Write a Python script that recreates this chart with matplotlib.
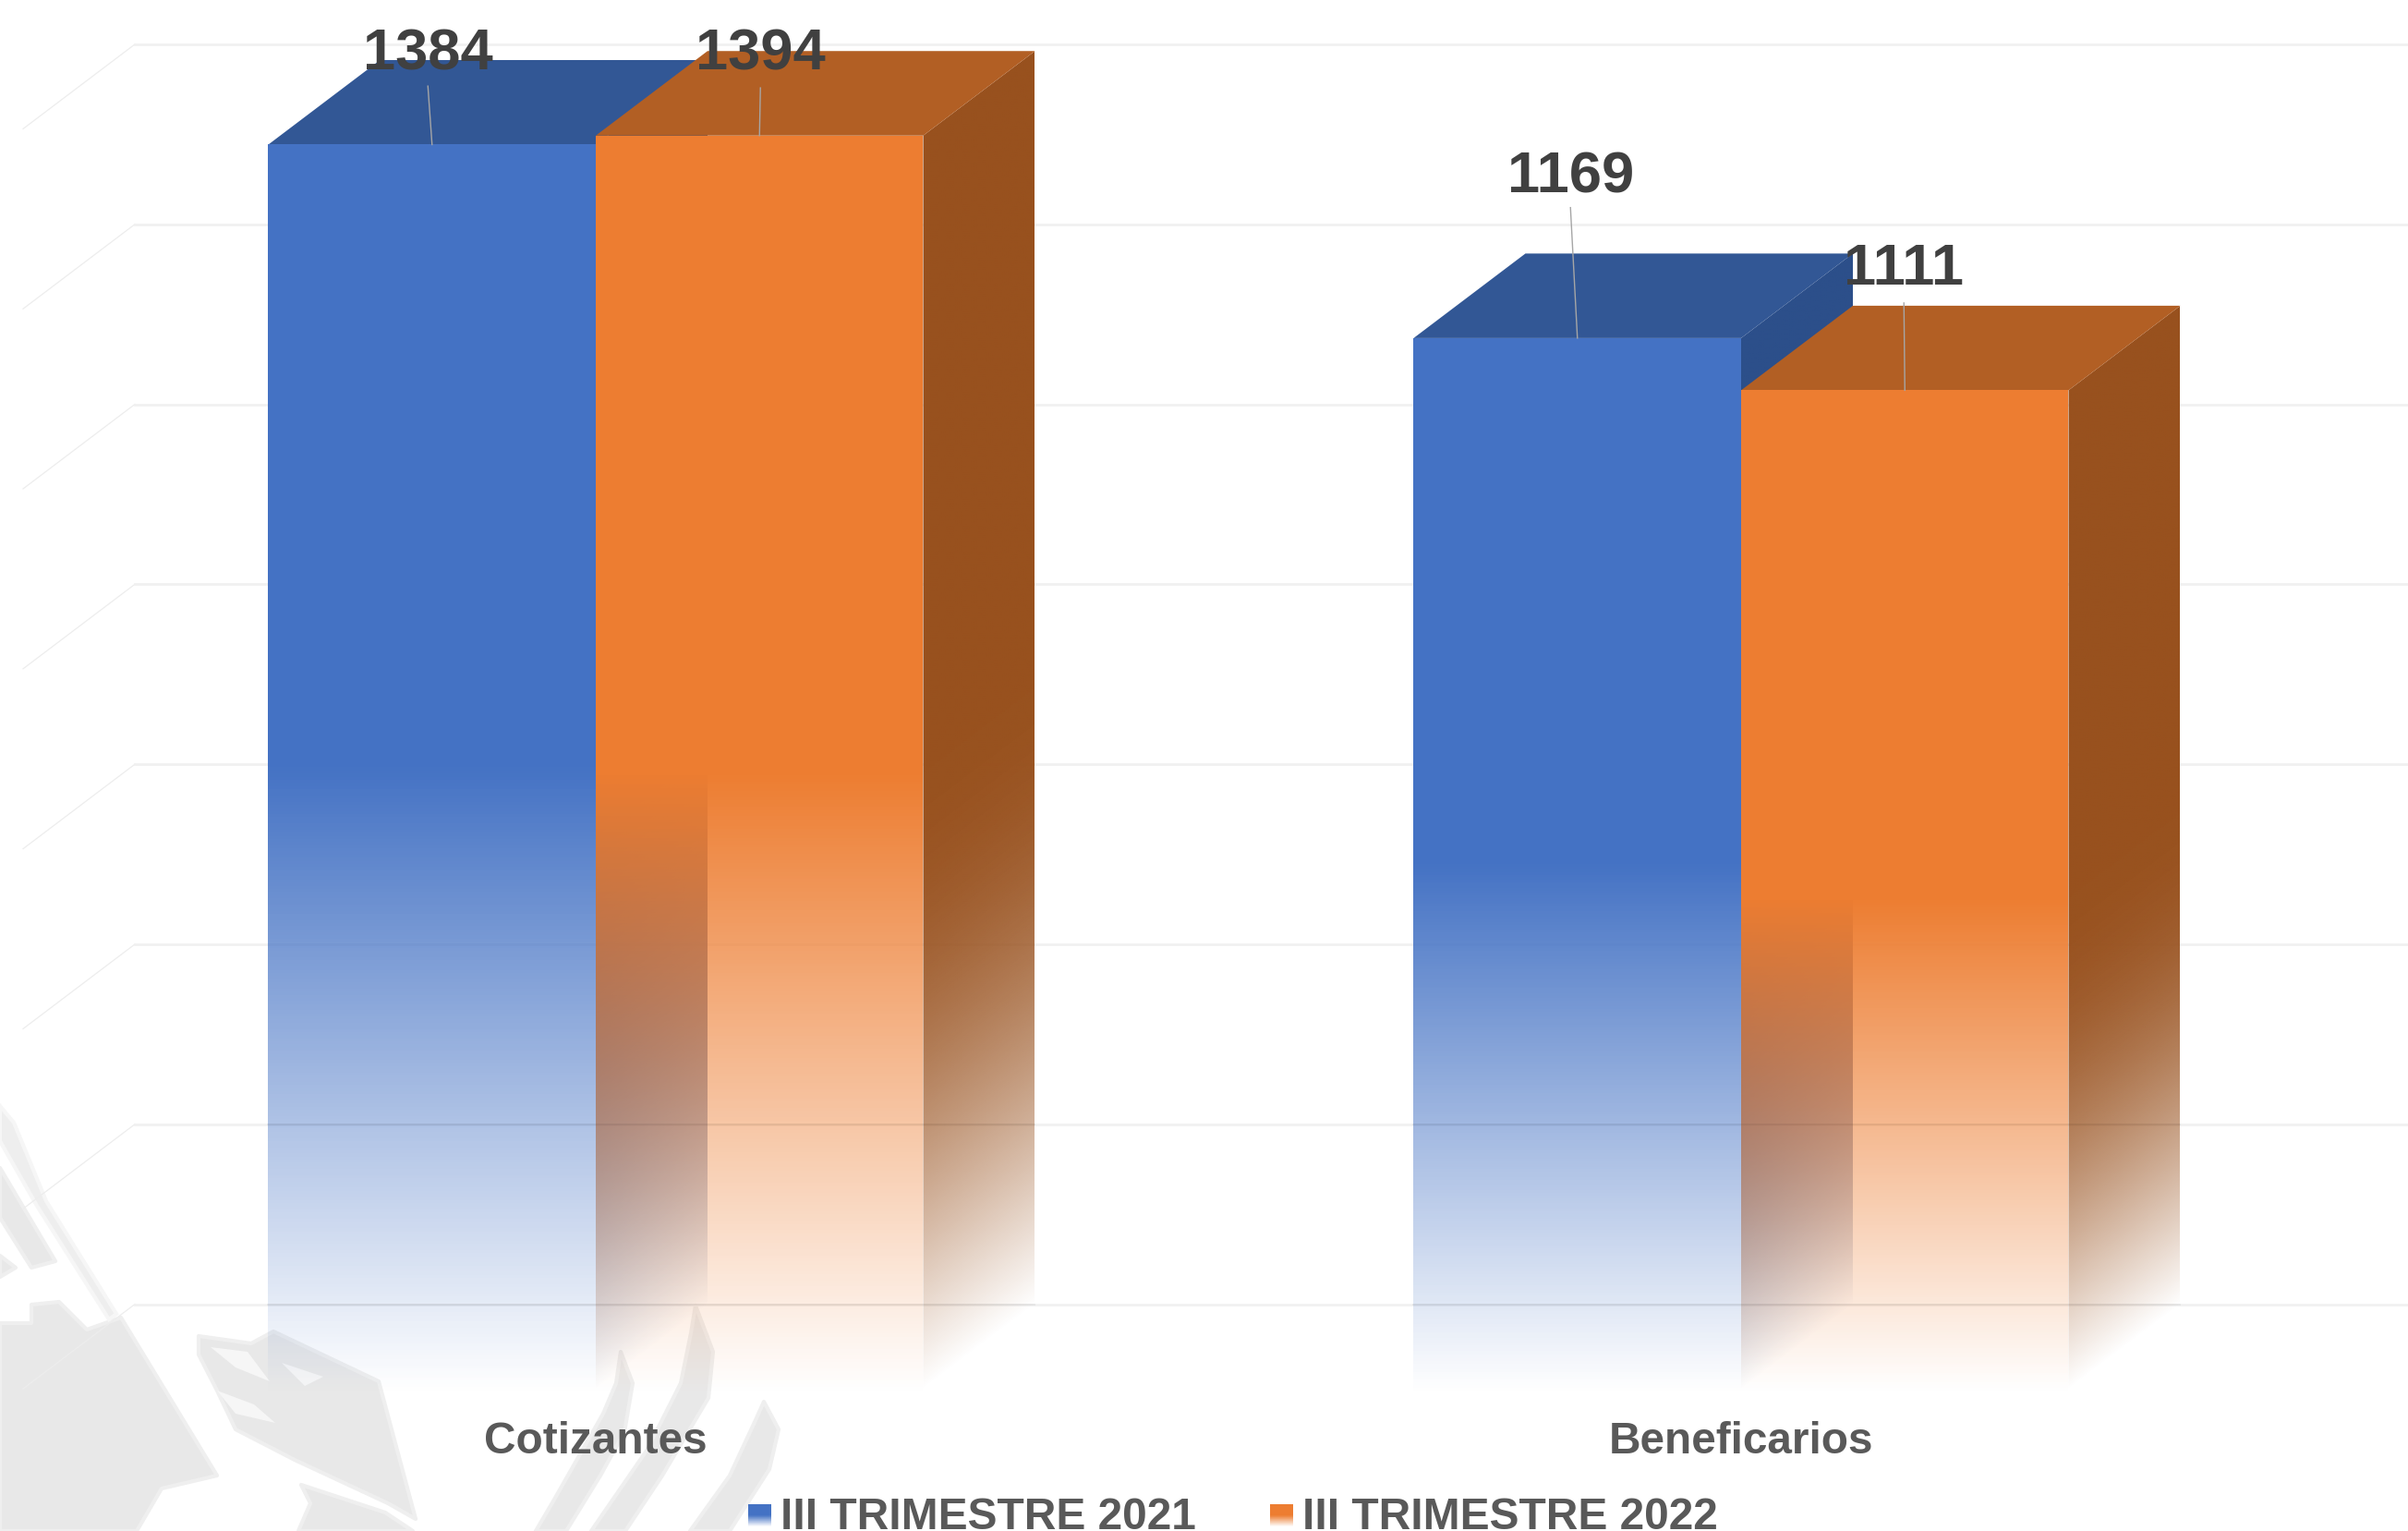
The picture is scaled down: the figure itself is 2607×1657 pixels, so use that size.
import numpy as np
import matplotlib
matplotlib.use("Agg")
import matplotlib.pyplot as plt
from matplotlib.colors import to_rgb
from matplotlib.patches import Polygon

plt.rcParams['font.family'] = ['Liberation Sans', 'DejaVu Sans']

# data
categories = ['Cotizantes', 'Beneficarios']
series_names = ['III TRIMESTRE 2021', 'III TRIMESTRE 2022']
values_2021 = [1384, 1169]
values_2022 = [1394, 1111]
grid_values = [0, 200, 400, 600, 800, 1000, 1200, 1400]

# colours per series: front, top, side
front_colors = ['#4472C4', '#ED7D31']
top_colors = ['#325795', '#B25F24']
side_colors = ['#2C4F8A', '#98511E']

# layout, 1 unit of x = 1240 px, 1 unit of y = 0.974 px
W, H = 2607, 1657
PX_X = 1240.0
PX_Y = 0.974
X0_PX = 645.0
Y0_PX = 1504.5
BAR_W = 354.5 / PX_X
DEPTH_X = 121 / PX_X
DEPTH_Y = 91.5 / PX_Y
WALL_X = (25 - X0_PX) / PX_X
GRID_LIFT = 1.5
fade_start = [0.5, 0.49]  # share of the bar height where the fade begins

# label and leader offsets by series then category (x in px, lift in value units)
label_dx = [[-4.5, -7.5], [1, -1]]
label_lift = [[100, 179], [90, 134]]
leader_lift = [[65, 145], [53, 97]]

# watermark shapes behind the chart, in pixels
wm_shapes = [
    [(0, 1432), (34, 1432), (34, 1412), (64, 1409), (94, 1439), (131, 1426), (235, 1597),
     (175, 1611), (148, 1657), (0, 1657)],
    [(0, 1264), (60, 1365), (34, 1372), (0, 1318)],
    [(0, 1359), (17, 1372), (0, 1382)],
    [(215, 1446), (272, 1454), (296, 1441), (410, 1495), (450, 1644), (420, 1627), (319, 1580),
     (255, 1547), (235, 1505), (215, 1466)],
    [(326, 1607), (417, 1637), (447, 1657), (323, 1657), (336, 1627)],
    [(672, 1463), (685, 1497), (676, 1550), (650, 1597), (613, 1657), (580, 1657), (600, 1623),
     (653, 1530), (667, 1497)],
    [(753, 1413), (772, 1463), (767, 1513), (717, 1597), (677, 1657), (640, 1657), (700, 1570),
     (737, 1497), (748, 1443)],
    [(827, 1517), (843, 1547), (833, 1590), (790, 1657), (747, 1657), (790, 1597), (818, 1537)],
]
wm_stripe = [(0, 1197), (15, 1215), (50, 1300), (126, 1422), (118, 1428), (40, 1305), (0, 1235)]
wm_holes = [
    [(228, 1458), (268, 1463), (292, 1495), (255, 1480)],
    [(235, 1505), (275, 1520), (298, 1540), (255, 1530)],
    [(305, 1475), (350, 1490), (330, 1500)],
]


def fade_rgba(color, n, start):
    # solid above the start share, linear to transparent at the bottom
    t = (np.arange(n) + 0.5) / n
    rgba = np.ones((n, 1, 4))
    rgba[:, :, :3] = to_rgb(color)
    rgba[:, 0, 3] = np.clip(t / start, 0, 1)
    return rgba


def draw_bar(ax, left, value, i):
    right = left + BAR_W
    n = 400

    # side face: the fade follows the skew, so it is an image cut to the parallelogram
    yy = (np.arange(600) + 0.5) / 600 * (value + DEPTH_Y)
    uu = (np.arange(120) + 0.5) / 120
    front_v = yy[:, None] - uu[None, :] * DEPTH_Y
    side = np.ones((600, 120, 4))
    side[:, :, :3] = to_rgb(side_colors[i])
    # sides stay dark for longer than the fronts, but still end softly
    side[:, :, 3] = np.sin(np.pi / 2 * np.clip(front_v / (fade_start[i] * value), 0, 1))
    im = ax.imshow(side, extent=[right, right + DEPTH_X, 0, value + DEPTH_Y], origin='lower',
                   aspect='auto', interpolation='bilinear', zorder=3)
    clip = Polygon([(right, 0), (right + DEPTH_X, DEPTH_Y), (right + DEPTH_X, value + DEPTH_Y),
                    (right, value)], closed=True, transform=ax.transData)
    im.set_clip_path(clip)

    # top face
    ax.add_patch(Polygon([(left, value), (right, value), (right + DEPTH_X, value + DEPTH_Y),
                          (left + DEPTH_X, value + DEPTH_Y)],
                         closed=True, fc=top_colors[i], ec='none', zorder=3))

    # front face
    v = np.linspace(0, value, n + 1)
    fx = np.column_stack([np.full(n + 1, left), np.full(n + 1, right)])
    fy = np.column_stack([v, v])
    ax.pcolormesh(fx, fy, fade_rgba(front_colors[i], n, fade_start[i]), shading='flat', zorder=3)


fig = plt.figure(figsize=(W / 100, H / 100), dpi=100, facecolor='white')

# pixel axes for the watermark and the legend
ax_px = fig.add_axes([0, 0, 1, 1])
ax_px.axis('off')
for shape in wm_shapes:
    ax_px.add_patch(Polygon(shape, closed=True, fc='#E8E8E8', ec='#EFEFEF', lw=3, joinstyle='round'))
ax_px.add_patch(Polygon(wm_stripe, closed=True, fc='#EEEEEE', ec='#F6F6F6', lw=3))
for shape in wm_holes:
    ax_px.add_patch(Polygon(shape, closed=True, fc='#F6F6F6', ec='none'))

# chart axes in data units
xlim = (-X0_PX / PX_X, (W - X0_PX) / PX_X)
ylim = ((Y0_PX - H) / PX_Y, Y0_PX / PX_Y)
ax = fig.add_axes([0, 0, 1, 1])
ax.patch.set_alpha(0)
ax.axis('off')

# back and side wall gridlines
for g in grid_values:
    y = g + GRID_LIFT
    ax.plot([WALL_X, WALL_X + DEPTH_X], [y, y + DEPTH_Y], color='#EDEDED', lw=0.9, zorder=1)
    ax.plot([WALL_X + DEPTH_X, xlim[1]], [y + DEPTH_Y, y + DEPTH_Y], color='#F1F1F1', lw=2.0, zorder=1)

groups = np.arange(len(categories))
all_values = [values_2021, values_2022]
for g in groups:
    for i, vals in enumerate(all_values):
        draw_bar(ax, g - BAR_W + i * BAR_W, vals[g], i)

    # the lowest gridlines show as a darker band through the faded bars
    left = g - BAR_W
    right = g + BAR_W + DEPTH_X
    for gv in grid_values[:2]:
        yb = gv + GRID_LIFT + DEPTH_Y
        ax.plot([left, right], [yb, yb], color='black', alpha=0.05, lw=1.3, zorder=4)

# data labels with their leader lines
for g in groups:
    for i, vals in enumerate(all_values):
        center = g - BAR_W / 2 + i * BAR_W
        lx = center + label_dx[i][g] / PX_X
        ax.plot([lx, center], [vals[g] + leader_lift[i][g], vals[g]], color='#A6A6A6', lw=1.0, zorder=5)
        ax.text(lx, vals[g] + label_lift[i][g], str(vals[g]), color='#404040', fontsize=45.5,
                fontweight='bold', ha='center', va='center', zorder=6)

# category labels
for g in groups:
    ax.text(g, -70, categories[g], color='#595959', fontsize=34.4, fontweight='bold',
            ha='center', va='baseline', zorder=6)

# legend, keys fade like the bars
key_x = [810, 1375]
for i, name in enumerate(series_names):
    ky = np.linspace(1652, 1628, 61)
    kx = np.column_stack([np.full(61, key_x[i]), np.full(61, key_x[i] + 25)])
    ax_px.pcolormesh(kx, np.column_stack([ky, ky]), fade_rgba(front_colors[i], 60, 0.5), shading='flat')
    ax_px.text(key_x[i] + 35, 1655, name, color='#595959', fontsize=34.5, fontweight='bold',
               ha='left', va='baseline')

ax_px.set_xlim(0, W)
ax_px.set_ylim(H, 0)
ax.set_xlim(xlim)
ax.set_ylim(ylim)

fig.savefig('out.png', dpi=100)
